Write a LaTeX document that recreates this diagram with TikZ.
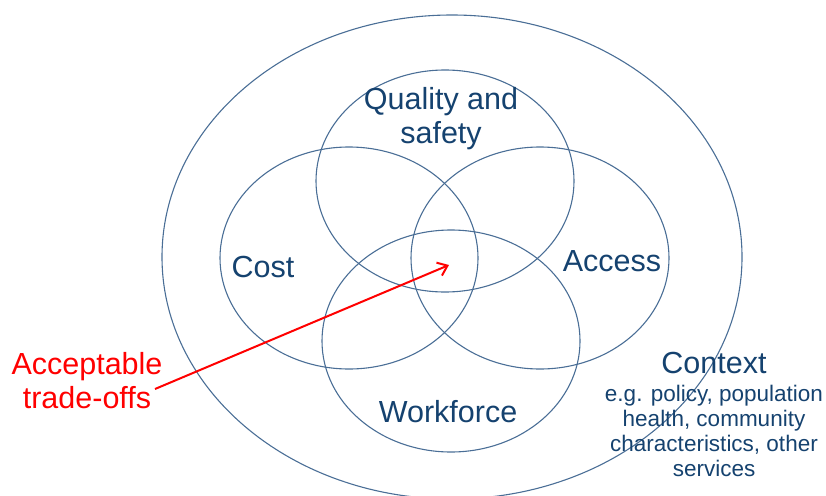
\documentclass[tikz,border=0pt]{standalone}
\usepackage{fontspec}
\setmainfont{Liberation Sans}
\usetikzlibrary{arrows.meta}
\definecolor{labelblue}{HTML}{15426F}
\definecolor{ringblue}{HTML}{4A6E96}
\definecolor{tradered}{HTML}{FF0000}
\begin{document}
\begin{tikzpicture}[x=1pt,y=-1pt,
  ring/.style={draw=ringblue,line width=1.1pt},
  biglabel/.style={text=labelblue,font=\fontsize{30.5}{34}\selectfont,align=center,inner sep=0pt},
  smalllabel/.style={text=labelblue,font=\fontsize{22.5}{25}\selectfont,align=center,inner sep=0pt},
  redlabel/.style={text=tradered,font=\fontsize{30.5}{34}\selectfont,align=center,inner sep=0pt},
  pointer/.style={draw=tradered,line width=2pt,-{Straight Barb[length=9pt,width=14pt,line width=2pt]}}]
\useasboundingbox (0,0) rectangle (826,495);

% outer context ring and the four overlapping domains
\draw[ring] (452,257) ellipse [x radius=290pt, y radius=242pt];
\draw[ring] (445,181) ellipse [x radius=129pt, y radius=111pt];
\draw[ring] (349,258) ellipse [x radius=129pt, y radius=111pt];
\draw[ring] (540,258) ellipse [x radius=129pt, y radius=111pt];
\draw[ring] (451,341) ellipse [x radius=129pt, y radius=111pt];

% domain labels
\node[biglabel] (quality) at (441,119) {Quality and\\safety};
\node[biglabel] (cost) at (263,267) {Cost};
\node[biglabel] (access) at (612,261) {Access};
\node[biglabel] (workforce) at (448,412) {Workforce};
\node[biglabel] (context) at (714,363) {Context};
\node[smalllabel] (contextnote) at (714,431) {e.g. policy, population\\health, community\\characteristics, other\\services};

% trade-off pointer into the shared core
\node[redlabel] (trade) at (87,381) {Acceptable\\trade-offs};
\coordinate (tradetail) at (155,389);
\coordinate (core) at (449,265);
\draw[pointer] (tradetail) -- (core);
\end{tikzpicture}
\end{document}
